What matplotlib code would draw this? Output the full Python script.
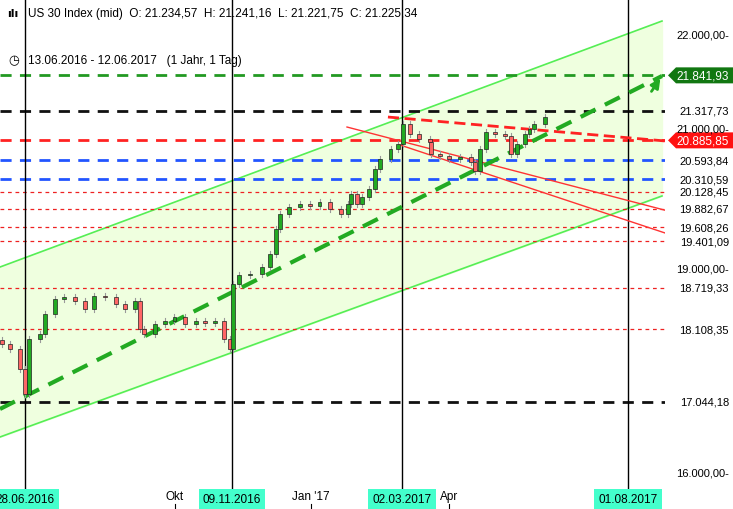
import matplotlib
matplotlib.use("Agg")
import matplotlib.pyplot as plt
from matplotlib.patches import Rectangle, Polygon

# day offsets from 13.06.2016 and closing values
days = [0,5,12,15,18,25,28,35,41,48,55,61,68,75,81,88,91,94,101,108,114,121,128,134,141,147,151,153,157,164,172,177,181,184,190,197,204,210,217,224,229,231,235,238,243,247,250,257,262,265,270,276,283,284,290,296,303,310,313,316,320,326,333,337,341,346,349,352,359]
closes = [17890,17817,17523,17155,17964,18038,18332,18553,18582,18523,18405,18597,18582,18479,18405,18523,18111,18038,18185,18229,18288,18185,18229,18200,18229,17964,17817,18773,18905,18920,19023,19215,19582,19803,19905,19950,19920,19979,19876,19803,19950,20097,19950,20053,20170,20464,20611,20758,20832,21126,20979,20905,20861,20685,20655,20611,20640,20567,20435,20758,21008,20979,20950,20685,20832,20979,21052,21126,21229]
first_open = 17950

levels_black = [21317.73, 17044.18]
level_green = 21841.93
level_red_main = 20885.85
levels_blue = [20593.84, 20310.59]
levels_red_thin = [20128.45, 19882.67, 19608.26, 19401.09, 18719.33, 18108.35]
right_labels = ["22.000,00-", "21.317,73", "21.000,00-", "20.593,84", "20.310,59", "20.128,45",
                "19.882,67", "19.608,26", "19.401,09", "19.000,00-", "18.719,33", "18.108,35", "17.044,18", "16.000,00-"]
right_label_vals = [22450, 21317.73, 21060, 20593.84, 20310.59, 20128.45, 19882.67, 19608.26, 19401.09,
                    19000, 18719.33, 18108.35, 17044.18, 16000]

chan_upper = ([-1.5, 436.7], [19023, 22641])
chan_lower = ([-1.5, 436.7], [16523, 20068])
trend_green = ([-1.5, 436.7], [16935, 21832])
red_upper = ([228.2, 440.7], [21082, 19847])
red_lower = ([263.3, 440.7], [20818, 19509])
red_dashed = ([255.3, 438.7], [21229, 20877])

vlines = [15, 152, 264.6, 414.2]
vline_labels = ["28.06.2016", "09.11.2016", "02.03.2017", "01.08.2017"]
month_pos = [114.3, 204.3, 295.7]
month_labels = ["Okt", "Jan '17", "Apr"]

W, H = 733, 510
fig = plt.figure(figsize=(W/100, H/100), dpi=100)
ax = fig.add_axes([0, 20/H, 665/W, 490/H])
xlim = (-1.5, 438.7)
ylim = (15758, 22965)
ax.set_xlim(*xlim); ax.set_ylim(*ylim)
for s in ax.spines.values():
    s.set_visible(False)
ax.set_xticks([]); ax.set_yticks([])

ax.fill_between(chan_upper[0], chan_lower[1], chan_upper[1], color="#efffdf", zorder=0)
ax.plot(*chan_upper, color="#55ee55", lw=1.2, zorder=2)
ax.plot(*chan_lower, color="#55ee55", lw=1.2, zorder=2)

for v in levels_black:
    ax.axhline(v, color="#111111", ls=(0, (4, 3)), lw=2, zorder=3)
ax.axhline(level_green, color="#229922", ls=(0, (4, 3)), lw=2, zorder=3)
ax.axhline(level_red_main, color="#ff2222", ls=(0, (4, 3)), lw=2, zorder=3)
for v in levels_blue:
    ax.axhline(v, color="#2255ff", ls=(0, (4, 3)), lw=2, zorder=3)
for v in levels_red_thin:
    ax.axhline(v, color="#ee2222", ls=(0, (3, 3)), lw=0.9, zorder=3)

for xv in vlines:
    ax.axvline(xv, color="black", lw=1, zorder=4)

ax.plot(*red_upper, color="#ff3333", lw=1, zorder=5)
ax.plot(*red_lower, color="#ff3333", lw=1, zorder=5)
ax.plot(*red_dashed, color="#ff2222", lw=2, ls=(0, (4, 2)), zorder=5)
ax.plot(*trend_green, color="#22aa22", lw=3, ls=(0, (4, 2.5)), zorder=5)
ax.annotate("", xy=(trend_green[0][1], trend_green[1][1]), xytext=(trend_green[0][1]-8, trend_green[1][1]-260),
            arrowprops=dict(arrowstyle="-|>", color="#22aa22", lw=2, mutation_scale=14), zorder=5)

prev = first_open
for d, c in zip(days, closes):
    o = prev
    lo, hi = min(o, c), max(o, c)
    ax.plot([d, d], [lo - 40, hi + 40], color="#999999", lw=0.8, zorder=6)
    col = "#22aa22" if c >= o else "#ff6666"
    ax.add_patch(Rectangle((d - 1.3, lo), 2.6, max(hi - lo, 8), facecolor=col, edgecolor="#222222", lw=0.5, zorder=7))
    prev = c

def ypix(v):
    return 20/H + (v - ylim[0]) / (ylim[1] - ylim[0]) * 490/H

for lab, v in zip(right_labels, right_label_vals):
    fig.text(729/W, ypix(v), lab, fontsize=8, va="center", ha="right", family="Liberation Sans")

for v, lab, col in [(level_green, "21.841,93", "#117711"), (level_red_main, "20.885,85", "#ff1111")]:
    yc = ypix(v); h = 16/H
    fig.patches.append(Polygon([(668/W, yc), (676/W, yc + h/2), (733/W, yc + h/2), (733/W, yc - h/2), (676/W, yc - h/2)],
                               closed=True, transform=fig.transFigure, facecolor=col, edgecolor="none"))
    fig.text(729/W, yc, lab, color="white", fontsize=8.5, va="center", ha="right", family="Liberation Sans")

def xfig(d):
    return (d - xlim[0]) / (xlim[1] - xlim[0]) * 665/W

for d, lab in zip(vlines, vline_labels):
    fig.text(xfig(d), 10/H, lab, fontsize=8.5, ha="center", va="center", family="Liberation Sans",
             bbox=dict(boxstyle="square,pad=0.35", facecolor="#44ffcc", edgecolor="none"))
for d, lab in zip(month_pos, month_labels):
    fig.text(xfig(d), 13/H, lab, fontsize=8.5, ha="center", va="center", family="Liberation Sans")
    fig.add_artist(plt.Line2D([xfig(d), xfig(d)], [0, 5/H], color="black", lw=0.8))

fig.text(28/W, 1 - 14/H, "US 30 Index (mid)  O: 21.234,57  H: 21.241,16  L: 21.221,75  C: 21.225,34",
         fontsize=8.5, va="center", family="Liberation Sans")
fig.text(28/W, 1 - 61/H, "13.06.2016 - 12.06.2017   (1 Jahr, 1 Tag)", fontsize=8.5, va="center", family="Liberation Sans")
fig.text(7/W, 1 - 14/H, "\u0131l\u0131", fontsize=8, va="center", family="DejaVu Sans", weight="bold")
fig.text(8/W, 1 - 61/H, "\u25F7", fontsize=9, va="center", family="DejaVu Sans")

fig.savefig("out.png", dpi=100)
